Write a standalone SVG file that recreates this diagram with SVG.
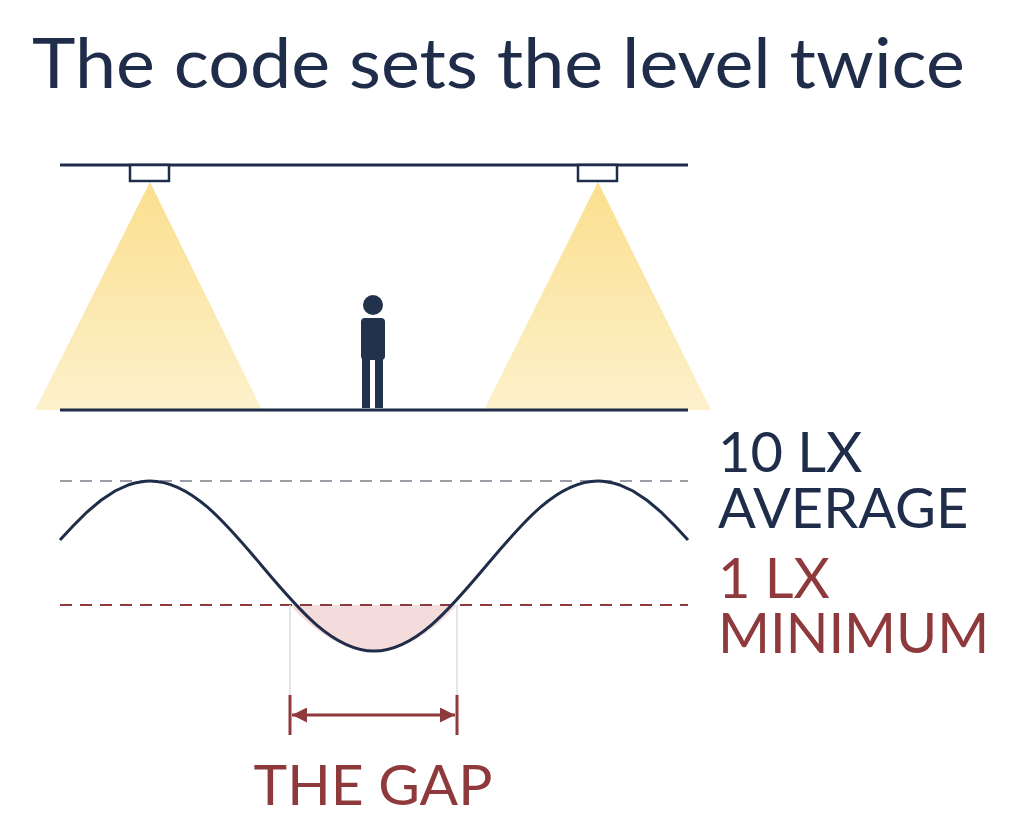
<svg xmlns="http://www.w3.org/2000/svg" width="1024" height="823" viewBox="0 0 1024 823">
<style>
.t{font-family:Lato,"Open Sans",sans-serif;}
.navy{fill:#1f2d4a}
.red{fill:#8e3a3c}
.line{stroke:#1f2d4a;stroke-width:3;fill:none}
</style>
<defs>
<linearGradient id="cone" x1="0" y1="0" x2="0" y2="1">
<stop offset="0" stop-color="#fbdf8e"/>
<stop offset="1" stop-color="#fdf1cc"/>
</linearGradient>
<marker id="ah" viewBox="0 0 10 10" refX="10" refY="5" markerWidth="5" markerHeight="5" orient="auto-start-reverse">
<path d="M0,0 L10,5 L0,10 z" fill="#8e3a3c"/>
</marker>
</defs>
<rect width="1024" height="823" fill="#fff"/>
<text class="t navy" x="32" y="88" font-size="69" textLength="933" lengthAdjust="spacingAndGlyphs">The code sets the level twice</text>
<g id="scene">
<polygon points="150,182 35,410 262,410" fill="url(#cone)"/>
<polygon points="598,182 484,410 711,410" fill="url(#cone)"/>
<line class="line" x1="60" y1="165" x2="688" y2="165"/>
<line class="line" x1="60" y1="410" x2="688" y2="410"/>
<rect x="130" y="165" width="39" height="16" fill="#fff" stroke="#1f2d4a" stroke-width="2.5"/>
<rect x="578" y="165" width="39" height="16" fill="#fff" stroke="#1f2d4a" stroke-width="2.5"/>
<g id="person" fill="#22324d">
<circle cx="373" cy="305" r="10"/>
<rect x="361" y="318" width="24" height="42" rx="4"/>
<rect x="362" y="356" width="8" height="52"/>
<rect x="375" y="356" width="8" height="52"/>
</g>
</g>
<g id="graph">
<path d="M290,605 Q374,697 457,605 Z" fill="#f5dcdc"/>
<line x1="60" y1="481" x2="688" y2="481" stroke="#9c9ca6" stroke-width="2" stroke-dasharray="12,8"/>
<line x1="60" y1="605" x2="688" y2="605" stroke="#8e3a3c" stroke-width="2" stroke-dasharray="12,8"/>
<path class="line" stroke-width="3.5" d="M60,540 L73,526 L87,512 L101,500.3 L115,491 L129,484.7 C138,482 144,481 150,481 C190.5,481 225.5,522.5 262,566 C298.5,609.5 333.5,651 374,651 C414.5,651 449.5,609.5 486,566 C522.5,522.5 557.5,481 598,481 C604,481 610,482 619,484.7 L633,491 L647,500.3 L661,512 L675,526 L688,540"/>
<line x1="290" y1="605" x2="290" y2="735" stroke="#dcdce0" stroke-width="1.5"/>
<line x1="457" y1="605" x2="457" y2="735" stroke="#dcdce0" stroke-width="1.5"/>
<line x1="290" y1="695" x2="290" y2="735" stroke="#8e3a3c" stroke-width="3"/>
<line x1="457" y1="695" x2="457" y2="735" stroke="#8e3a3c" stroke-width="3"/>
<line x1="292" y1="715" x2="455" y2="715" stroke="#8e3a3c" stroke-width="3" marker-start="url(#ah)" marker-end="url(#ah)"/>
</g>
<g id="labels">
<text class="t navy" x="718" y="472" font-size="56">10 LX</text>
<text class="t navy" x="718" y="528" font-size="56">AVERAGE</text>
<text class="t red" x="718" y="598" font-size="56">1 LX</text>
<text class="t red" x="718" y="653" font-size="56">MINIMUM</text>
<text class="t red" x="373" y="805" font-size="57" text-anchor="middle">THE GAP</text>
</g>
</svg>
